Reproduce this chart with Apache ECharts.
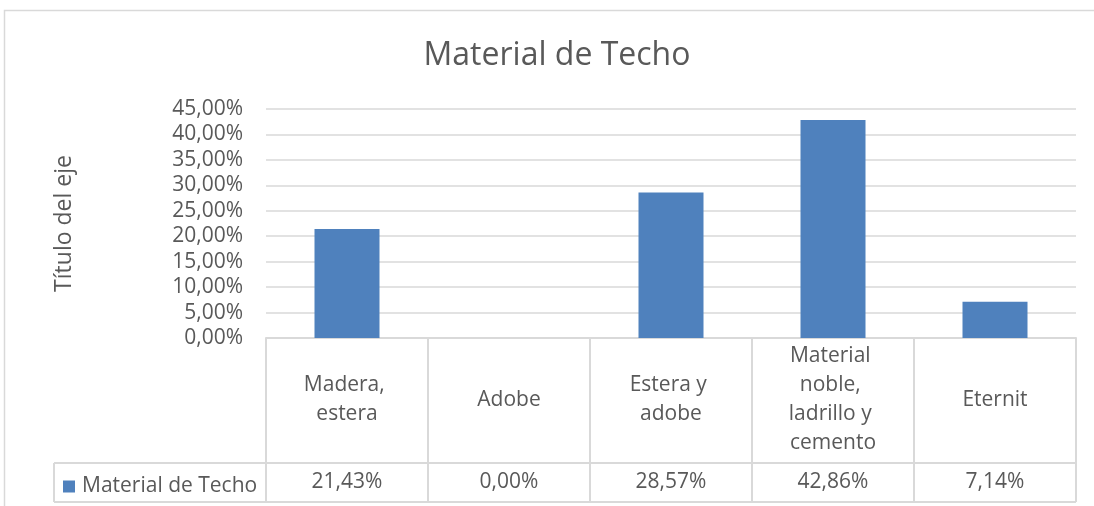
<!DOCTYPE html>
<html>
<head>
<meta charset="utf-8">
<script src="https://cdn.jsdelivr.net/npm/echarts@6/dist/echarts.min.js"></script>
<style>
html,body{margin:0;padding:0;background:#fff;}
#chart{width:1094px;height:506px;}
</style>
</head>
<body>
<div id="chart"></div>
<script>
const categories = ['Madera, estera', 'Adobe', 'Estera y adobe', 'Material noble, ladrillo y cemento', 'Eternit'];
const values = [21.43, 0.00, 28.57, 42.86, 7.14];
const seriesName = 'Material de Techo';
const chartTitle = 'Material de Techo';
const yAxisTitle = 'Título del eje';
const yMin = 0, yMax = 45, yStep = 5;

const FONT = 'Open Sans';
const TXT = '#595959';
const LINE = '#d9d9d9';
const fmt = v => v.toFixed(2).replace('.', ',') + '%';

// layout
const G = {left: 266, right: 1076, top: 109, bottom: 338};
const rowSep = 463, tableBottom = 502, legendLeft = 54;

const chart = echarts.init(document.getElementById('chart'), null, {renderer: 'canvas'});
chart.setOption({
  animation: false,
  textStyle: {fontFamily: FONT},
  title: {
    text: chartTitle, left: 552, top: 35, textAlign: 'center',
    textStyle: {fontFamily: FONT, fontSize: 32, fontWeight: 'normal', color: TXT}
  },
  legend: {
    data: [seriesName], left: 58, top: 471, icon: 'rect', itemWidth: 12, itemHeight: 12,
    textStyle: {fontFamily: FONT, fontSize: 21, color: TXT, padding: [0, 0, 0, 2]}
  },
  grid: {left: G.left, right: 1094 - G.right, top: G.top, bottom: 506 - G.bottom, containLabel: false},
  xAxis: [{
    type: 'category', data: categories,
    axisLine: {show: true, lineStyle: {color: LINE, width: 2}},
    axisTick: {show: true, length: tableBottom - G.bottom, lineStyle: {color: LINE, width: 2}},
    axisLabel: {
      interval: 0, width: 100, overflow: 'break', fontFamily: FONT, fontSize: 21, lineHeight: 29,
      color: TXT, verticalAlign: 'middle', margin: 62
    }
  }, {
    type: 'category', data: categories, position: 'bottom',
    axisLine: {show: false}, axisTick: {show: false},
    axisLabel: {
      interval: 0, fontFamily: FONT, fontSize: 21, color: TXT, verticalAlign: 'middle', margin: 144,
      formatter: (v, i) => fmt(values[i])
    }
  }],
  yAxis: {
    type: 'value', min: yMin, max: yMax, interval: yStep,
    name: yAxisTitle, nameLocation: 'middle', nameGap: 190, nameRotate: 90,
    nameTextStyle: {fontFamily: FONT, fontSize: 23, color: TXT},
    axisLine: {show: false}, axisTick: {show: false},
    axisLabel: {formatter: v => fmt(v), fontFamily: FONT, fontSize: 21, color: TXT, margin: 23},
    splitLine: {lineStyle: {color: LINE, width: 1.5}}
  },
  series: [{
    name: seriesName, type: 'bar', data: values, barWidth: 65,
    itemStyle: {color: '#4f81bd'}
  }],
  graphic: [
    {type: 'rect', shape: {x: 4.5, y: 10.5, width: 1200, height: 600}, style: {fill: null, stroke: LINE, lineWidth: 1.5}, silent: true},
    {type: 'line', shape: {x1: legendLeft, y1: rowSep, x2: G.right, y2: rowSep}, style: {stroke: LINE, lineWidth: 2}},
    {type: 'line', shape: {x1: legendLeft, y1: tableBottom, x2: G.right, y2: tableBottom}, style: {stroke: LINE, lineWidth: 2}},
    {type: 'line', shape: {x1: legendLeft, y1: rowSep, x2: legendLeft, y2: tableBottom}, style: {stroke: LINE, lineWidth: 2}}
  ]
});
</script>
</body>
</html>
